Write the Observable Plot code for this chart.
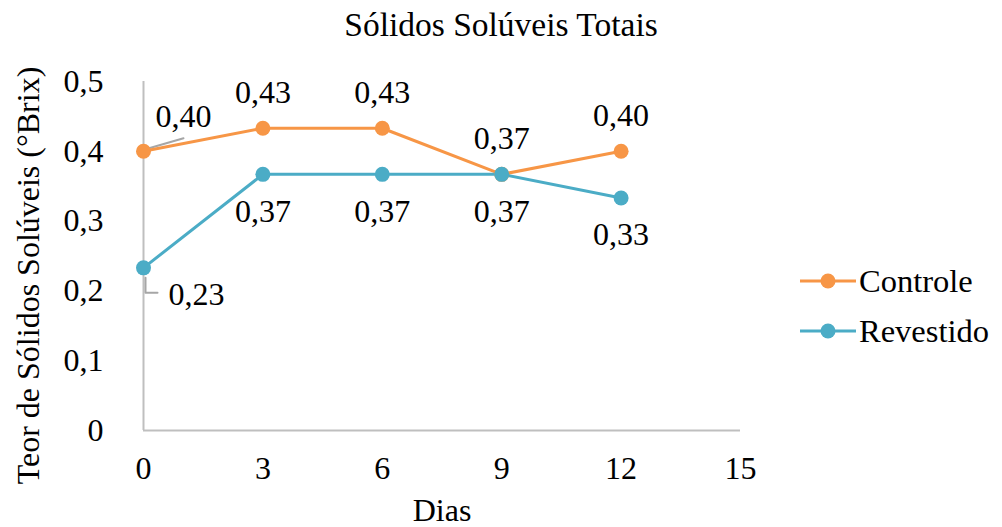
<!DOCTYPE html>
<html>
<head>
<meta charset="utf-8">
<script src="https://cdn.jsdelivr.net/npm/d3@7"></script>
<script src="https://cdn.jsdelivr.net/npm/@observablehq/plot@0.6"></script>
<style>
  html, body { margin: 0; padding: 0; background: #fff; }
  #wrap { position: relative; width: 1002px; height: 527px; font-family: "Liberation Serif", "Times New Roman", serif; color: #000; }
  #title { height: 50px; line-height: 50px; text-align: center; font-size: 33.5px; }
  #legend { position: absolute; left: 800px; top: 256px; font-size: 32.5px; }
  .item { display: flex; align-items: center; height: 50px; }
  .item svg { margin-right: 3px; }
</style>
</head>
<body>
<div id="wrap">
  <div id="title">Sólidos Solúveis Totais</div>
  <div id="chart"></div>
  <div id="legend"></div>
</div>
<script>
const days = [0, 3, 6, 9, 12];
const controle = [0.40, 0.433, 0.433, 0.367, 0.40];
const revestido = [0.233, 0.367, 0.367, 0.367, 0.333];
const seriesNames = ["Controle", "Revestido"];
const seriesColors = ["#F79646", "#4BACC6"];
const xTicks = [0, 3, 6, 9, 12, 15];
const yTicks = [0, 0.1, 0.2, 0.3, 0.4, 0.5];

const ctrl = days.map((d, i) => ({day: d, value: controle[i], series: "Controle"}));
const rev = days.map((d, i) => ({day: d, value: revestido[i], series: "Revestido"}));
const all = ctrl.concat(rev);
const fmt = v => v.toFixed(2).replace(".", ",");
const color = d3.scaleOrdinal(seriesNames, seriesColors);

const leaderCtrl = {draw(ctx) { ctx.moveTo(2, -2); ctx.lineTo(40, -13); }};
const leaderRev = {draw(ctx) { ctx.moveTo(2, 10); ctx.lineTo(2, 25); ctx.lineTo(14, 25); }};

const chart = Plot.plot({
  width: 1002,
  height: 477,
  marginLeft: 143,
  marginRight: 262,
  marginTop: 31,
  marginBottom: 97,
  style: {fontFamily: "'Liberation Serif', 'Times New Roman', serif", fontSize: "32px", color: "#000", background: "#fff", overflow: "visible"},
  x: {domain: [0, 15], ticks: xTicks, tickSize: 0, tickPadding: 26, label: null},
  y: {domain: [0, 0.5], ticks: yTicks, tickSize: 0, tickPadding: 40, label: null,
      tickFormat: d => d === 0 ? "0" : d.toFixed(1).replace(".", ",")},
  marks: [
    Plot.ruleX([0], {stroke: "#bfbfbf", strokeWidth: 2}),
    Plot.ruleY([0], {stroke: "#bfbfbf", strokeWidth: 2}),
    Plot.vector(ctrl.filter(d => d.day === 0), {x: "day", y: "value", length: 1, rotate: 0, anchor: "start", shape: leaderCtrl, stroke: "#a6a6a6", strokeWidth: 2}),
    Plot.vector(rev.filter(d => d.day === 0), {x: "day", y: "value", length: 1, rotate: 0, anchor: "start", shape: leaderRev, stroke: "#a6a6a6", strokeWidth: 2}),
    Plot.line(ctrl, {x: "day", y: "value", stroke: seriesColors[0], strokeWidth: 3}),
    Plot.line(rev, {x: "day", y: "value", stroke: seriesColors[1], strokeWidth: 3}),
    Plot.dot(all, {x: "day", y: "value", r: 7.5, fill: d => color(d.series), stroke: "none"}),
    Plot.text(ctrl.filter(d => d.day !== 0), {x: "day", y: "value", text: d => fmt(d.value), dy: -36, fill: "#000"}),
    Plot.text(rev.filter(d => d.day !== 0), {x: "day", y: "value", text: d => fmt(d.value), dy: 37, fill: "#000"}),
    Plot.text(ctrl.filter(d => d.day === 0), {x: "day", y: "value", text: d => fmt(d.value), dx: 40, dy: -35, fill: "#000"}),
    Plot.text(rev.filter(d => d.day === 0), {x: "day", y: "value", text: d => fmt(d.value), dx: 53, dy: 27, fill: "#000"}),
    Plot.text(["Dias"], {frameAnchor: "bottom", textAnchor: "middle", dy: 90, fill: "#000"}),
    Plot.text(["Teor de Sólidos Solúveis (°Brix)"], {frameAnchor: "left", textAnchor: "middle", rotate: -90, dx: -115, dy: 19.5, fill: "#000"})
  ]
});
document.getElementById("chart").appendChild(chart);

const legend = document.getElementById("legend");
seriesNames.forEach((name, i) => {
  const item = document.createElement("div");
  item.className = "item";
  item.innerHTML = `<svg width="56" height="20"><line x1="0" y1="10" x2="56" y2="10" stroke="${seriesColors[i]}" stroke-width="3"/><circle cx="28" cy="10" r="7.5" fill="${seriesColors[i]}"/></svg><span>${name}</span>`;
  legend.appendChild(item);
});
</script>
</body>
</html>
